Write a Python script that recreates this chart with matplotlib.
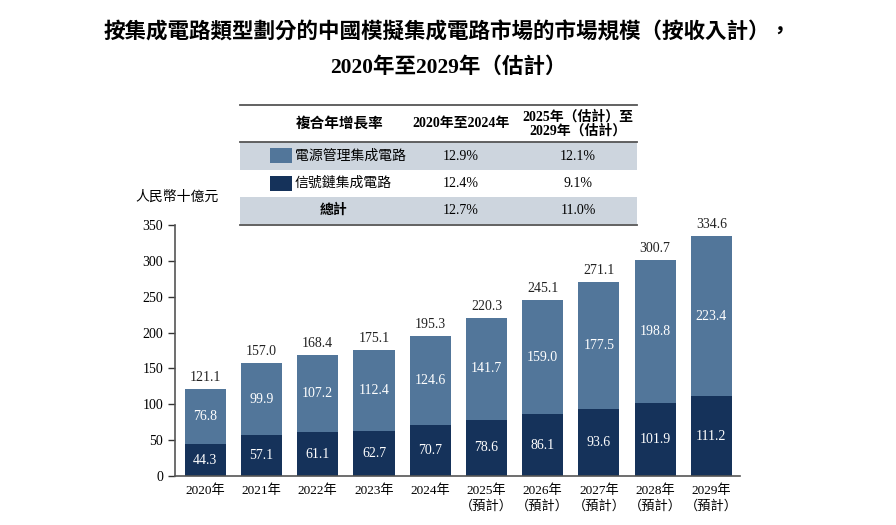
import matplotlib
matplotlib.use("Agg")
import matplotlib.pyplot as plt
from matplotlib.patches import Rectangle
import numpy as np

plt.rcParams['font.family'] = ['Liberation Serif', 'Noto Sans CJK TC', 'DejaVu Sans']

years = ["2020年", "2021年", "2022年", "2023年", "2024年",
         "2025年\n（預計）", "2026年\n（預計）", "2027年\n（預計）", "2028年\n（預計）", "2029年\n（預計）"]
signal_chain = [44.3, 57.1, 61.1, 62.7, 70.7, 78.6, 86.1, 93.6, 101.9, 111.2]
power_mgmt = [76.8, 99.9, 107.2, 112.4, 124.6, 141.7, 159.0, 177.5, 198.8, 223.4]
totals = [121.1, 157.0, 168.4, 175.1, 195.3, 220.3, 245.1, 271.1, 300.7, 334.6]

series_names = ["電源管理集成電路", "信號鏈集成電路", "總計"]
cagr_2020_2024 = ["12.9%", "12.4%", "12.7%"]
cagr_2025_2029 = ["12.1%", "9.1%", "11.0%"]

c_power = "#52769a"
c_signal = "#15325a"
c_shade = "#cdd5de"

fig = plt.figure(figsize=(8.96, 5.25), dpi=100)
ax = fig.add_axes([175 / 896, 49 / 525, 565 / 896, 251 / 525])

x = np.arange(len(years))
w = 0.73
ax.bar(x, signal_chain, w, color=c_signal)
ax.bar(x, power_mgmt, w, bottom=signal_chain, color=c_power)

for i in range(len(x)):
    ax.text(x[i], signal_chain[i] / 2, f"{signal_chain[i]:.1f}", ha="center", va="center",
            color="white", fontsize=10)
    ax.text(x[i], signal_chain[i] + power_mgmt[i] / 2, f"{power_mgmt[i]:.1f}", ha="center",
            va="center", color="white", fontsize=10)
    ax.text(x[i], totals[i] + 16, f"{totals[i]:.1f}", ha="center", va="center",
            color="#222222", fontsize=10)

ax.set_xlim(-0.54, 9.51)
ax.set_ylim(0, 350)
ax.set_yticks(range(0, 351, 50))
ax.set_xticks(x)
ax.set_xticklabels(years, fontsize=9.5, linespacing=1.35)
ax.tick_params(axis="x", length=0, pad=6)
ax.tick_params(axis="y", length=5, width=1, labelsize=10, direction="out", colors="#333333")
for lab in ax.get_yticklabels():
    lab.set_color("black")
for s in ["top", "right"]:
    ax.spines[s].set_visible(False)
ax.spines["left"].set_color("#555555")
ax.spines["bottom"].set_color("#555555")
ax.spines["left"].set_linewidth(1.2)
ax.spines["bottom"].set_linewidth(1.2)

fig.text(135 / 896, 1 - 197 / 525, "人民幣十億元", fontsize=10, va="center", ha="left")

# title
fig.text(0.5, 1 - 33 / 525, "按集成電路類型劃分的中國模擬集成電路市場的市場規模（按收入計），",
         ha="center", va="center", fontsize=15.5, fontweight="bold")
fig.text(0.5, 1 - 68 / 525, "2020年至2029年（估計）",
         ha="center", va="center", fontsize=15.5, fontweight="bold")

# table overlay in pixel coordinates
tab = fig.add_axes([0, 0, 1, 1], facecolor="none")
tab.set_xlim(0, 896)
tab.set_ylim(525, 0)
tab.axis("off")

tx0, tx1 = 240, 637
tab.add_patch(Rectangle((tx0, 142), tx1 - tx0, 28, color=c_shade, lw=0))
tab.add_patch(Rectangle((tx0, 197), tx1 - tx0, 27, color=c_shade, lw=0))
tab.plot([tx0, tx1], [105, 105], color="#555555", lw=1.3)
tab.plot([tx0, tx1], [142, 142], color="#555555", lw=1.3)
tab.plot([tx0, tx1], [224.5, 224.5], color="#555555", lw=1.3)

col1, col2, col3 = 340, 461, 578
tab.text(col1, 124, "複合年增長率", ha="center", va="center", fontsize=10.5, fontweight="bold")
tab.text(col2, 124, "2020年至2024年", ha="center", va="center", fontsize=10, fontweight="bold")
tab.text(col3, 124, "2025年（估計）至\n2029年（估計）", ha="center", va="center",
         fontsize=10, fontweight="bold", linespacing=1.0)

row_y = [156, 183.5, 210.5]
tab.add_patch(Rectangle((270, 148), 22, 15, color=c_power, lw=0))
tab.add_patch(Rectangle((270, 176), 22, 15, color=c_signal, lw=0))
tab.text(295, row_y[0], series_names[0], ha="left", va="center", fontsize=10)
tab.text(295, row_y[1], series_names[1], ha="left", va="center", fontsize=10)
tab.text(col1 - 6, row_y[2], series_names[2], ha="center", va="center", fontsize=10, fontweight="bold")
for i in range(3):
    tab.text(col2, row_y[i], cagr_2020_2024[i], ha="center", va="center", fontsize=10)
    tab.text(col3, row_y[i], cagr_2025_2029[i], ha="center", va="center", fontsize=10)

fig.savefig("out.png", dpi=100)
